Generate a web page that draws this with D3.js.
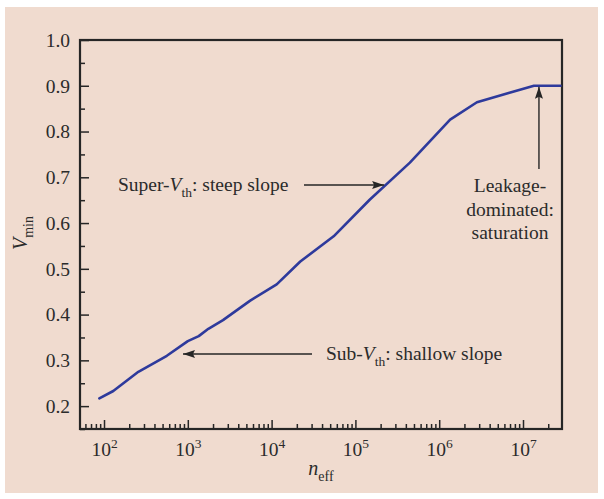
<!DOCTYPE html>
<html>
<head>
<meta charset="utf-8">
<script src="https://cdn.jsdelivr.net/npm/d3@7"></script>
<style>
  html, body { margin: 0; padding: 0; background: #ffffff; }
  svg { display: block; }
  text { font-family: "Liberation Serif", "Times New Roman", serif; fill: #2b2b2b; }
</style>
</head>
<body>
<svg id="chart" width="604" height="499"></svg>
<script>
// Effective device count vs. minimum operating voltage
const nEff = [88, 129, 257, 562, 1000, 1350, 1760, 2630, 5500, 11500, 22000, 55000, 148000, 447000, 1350000, 2820000, 6900000, 13500000, 28000000];
const vMin = [0.217, 0.233, 0.275, 0.310, 0.342, 0.353, 0.369, 0.388, 0.430, 0.466, 0.516, 0.571, 0.651, 0.732, 0.826, 0.864, 0.885, 0.900, 0.900];

// Axis ticks
const xTickExponents = [2, 3, 4, 5, 6, 7];
const yTickValues = [0.2, 0.3, 0.4, 0.5, 0.6, 0.7, 0.8, 0.9, 1.0];
const yTickLabels = ["0.2", "0.3", "0.4", "0.5", "0.6", "0.7", "0.8", "0.9", "1.0"];

const svg = d3.select("#chart");

// backdrop panel
svg.append("rect").attr("x", 5).attr("y", 7).attr("width", 593).attr("height", 486)
  .attr("fill", "#f0dbcf");

const plot = { left: 80, right: 562, top: 40, bottom: 429 };

const x = d3.scaleLog().domain([51.7, 2.92e7]).range([plot.left, plot.right]);
const y = d3.scaleLinear().domain([0.15, 1.0]).range([plot.bottom, plot.top]);

const ink = "#262626";
const fs = 19.5;

// minor ticks on x (2..9 of each decade)
const xMinor = [];
for (let e = 1; e <= 7; e++) {
  for (let m = 1; m <= 9; m++) {
    const v = m * Math.pow(10, e);
    if (v >= x.domain()[0] && v <= x.domain()[1]) xMinor.push(v);
  }
}
const xMajor = xTickExponents.map(e => Math.pow(10, e));

const gx = svg.append("g").attr("transform", `translate(0,${plot.bottom})`);
gx.call(d3.axisBottom(x).tickValues(xMinor.filter(v => !xMajor.includes(v)))
  .tickSizeInner(-5).tickSizeOuter(0).tickFormat(""));
gx.select(".domain").remove();
gx.selectAll("line").attr("stroke", ink).attr("stroke-width", 1.5);

const gxM = svg.append("g").attr("transform", `translate(0,${plot.bottom})`);
gxM.call(d3.axisBottom(x).tickValues(xMajor).tickSizeInner(-9).tickSizeOuter(0).tickPadding(0)
  .tickFormat(() => ""));
gxM.select(".domain").remove();
gxM.selectAll("line").attr("stroke", ink).attr("stroke-width", 1.5);
gxM.selectAll(".tick").each(function(d, i) {
  const t = d3.select(this).append("text")
    .attr("y", 13).attr("text-anchor", "middle")
    .attr("font-size", fs).attr("dy", "0.71em");
  t.append("tspan").text("10");
  t.append("tspan").attr("font-size", 13.5).attr("dy", "-0.6em").text(xTickExponents[i]);
});

// y axis: major every 0.1, minor every 0.05
const yMinor = d3.range(0.15, 1.0, 0.1).map(v => +v.toFixed(2));
const gy = svg.append("g").attr("transform", `translate(${plot.left},0)`);
gy.call(d3.axisLeft(y).tickValues(yMinor).tickSizeInner(-5).tickSizeOuter(0).tickFormat(""));
gy.select(".domain").remove();
gy.selectAll("line").attr("stroke", ink).attr("stroke-width", 1.5);

const gyM = svg.append("g").attr("transform", `translate(${plot.left},0)`);
gyM.call(d3.axisLeft(y).tickValues(yTickValues).tickSizeInner(-9).tickSizeOuter(0).tickPadding(10)
  .tickFormat((d, i) => yTickLabels[i]));
gyM.select(".domain").remove();
gyM.selectAll("line").attr("stroke", ink).attr("stroke-width", 1.5);
gyM.selectAll("text").attr("font-size", fs).attr("fill", "#2b2b2b");

// frame
svg.append("rect").attr("x", plot.left).attr("y", plot.top)
  .attr("width", plot.right - plot.left).attr("height", plot.bottom - plot.top)
  .attr("fill", "none").attr("stroke", ink).attr("stroke-width", 2.2);

// curve
const line = d3.line().x((d, i) => x(nEff[i])).y((d, i) => y(vMin[i])).curve(d3.curveLinear);
svg.append("path").datum(vMin).attr("d", line)
  .attr("fill", "none").attr("stroke", "#2e3a9c").attr("stroke-width", 2.6)
  .attr("stroke-linejoin", "round").attr("stroke-linecap", "round");

// arrow markers
const defs = svg.append("defs");
defs.append("marker").attr("id", "arrowhead")
  .attr("viewBox", "0 0 12 8").attr("refX", 12).attr("refY", 4)
  .attr("markerWidth", 12).attr("markerHeight", 8).attr("markerUnits", "userSpaceOnUse")
  .attr("orient", "auto")
  .append("path").attr("d", "M0,0 L12,4 L0,8 L2,4 Z").attr("fill", ink);

function arrow(x1, y1, x2, y2) {
  svg.append("line").attr("x1", x1).attr("y1", y1).attr("x2", x2).attr("y2", y2)
    .attr("stroke", ink).attr("stroke-width", 1.4).attr("marker-end", "url(#arrowhead)");
}

function vthLabel(xp, yp, prefix, suffix) {
  const t = svg.append("text").attr("x", xp).attr("y", yp).attr("font-size", fs);
  t.append("tspan").text(prefix);
  t.append("tspan").attr("font-style", "italic").text("V");
  t.append("tspan").attr("font-size", 13.5).attr("dy", 6).text("th");
  t.append("tspan").attr("dy", -6).text(suffix);
}

// super-threshold annotation
vthLabel(118, 191, "Super-", ": steep slope");
arrow(304, 185, x(2.2e5), 185);

// sub-threshold annotation
vthLabel(326, 360, "Sub-", ": shallow slope");
arrow(312, 354, 183, 354);

// leakage annotation
const ax = x(1.55e7);
arrow(ax, 169, ax, y(0.9) + 1);
const tx = 510;
const leak = svg.append("text").attr("x", tx).attr("y", 192).attr("font-size", fs)
  .attr("text-anchor", "middle");
["Leakage-", "dominated:", "saturation"].forEach((s, i) => {
  leak.append("tspan").attr("x", tx).attr("dy", i === 0 ? 0 : 23.5).text(s);
});

// axis titles
const yt = svg.append("text").attr("transform", "translate(27,233) rotate(-90)")
  .attr("text-anchor", "middle").attr("font-size", 20);
yt.append("tspan").attr("font-style", "italic").text("V");
yt.append("tspan").attr("font-size", 14).attr("dy", 6).text("min");

const xt = svg.append("text").attr("x", 321).attr("y", 475)
  .attr("text-anchor", "middle").attr("font-size", 20);
xt.append("tspan").attr("font-style", "italic").text("n");
xt.append("tspan").attr("font-size", 14).attr("dy", 6).text("eff");
</script>
</body>
</html>
